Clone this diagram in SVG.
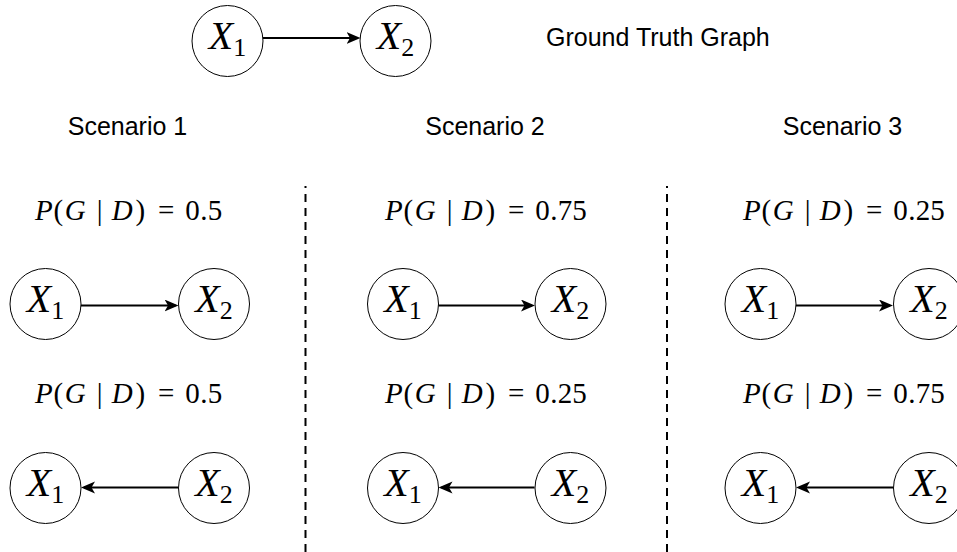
<svg xmlns="http://www.w3.org/2000/svg" width="957" height="552" viewBox="0 0 957 552">
<style>
.node{fill:#fff;stroke:#000;stroke-width:1}
.lbl{font-family:"Liberation Serif",serif;font-size:40px;fill:#000;text-anchor:middle}
.lbl .x{font-style:italic}
.lbl .s{font-size:26px}
.title{font-family:"Liberation Sans",Arial,sans-serif;font-size:25px;fill:#000}
.math{font-family:"Liberation Serif",serif;font-size:29px;fill:#000}
.math .i{font-style:italic}
.edge{stroke:#000;stroke-width:2;fill:none}
.div{stroke:#000;stroke-width:2;stroke-dasharray:8 6;fill:none}
</style>
<defs>
<marker id="arr" markerUnits="userSpaceOnUse" markerWidth="16" markerHeight="14" refX="11" refY="6" orient="auto">
<path d="M0,0 L14,6 L0,12 L3.5,6 Z" fill="#000"/>
</marker>
</defs>

<g id="titles">
<text class="title" x="546" y="46">Ground Truth Graph</text>
<text class="title" x="127.5" y="135" text-anchor="middle">Scenario 1</text>
<text class="title" x="485" y="135" text-anchor="middle">Scenario 2</text>
<text class="title" x="842.5" y="135" text-anchor="middle">Scenario 3</text>
</g>

<g id="dividers">
<path class="div" d="M305.5,552 V186"/>
<path class="div" d="M667,552 V186"/>
</g>

<g id="probabilities">
<g transform="translate(35,220)">
<text class="math"><tspan class="i" x="0">P</tspan><tspan x="18.6">(</tspan><tspan class="i" x="29.8">G</tspan><tspan x="61.7">|</tspan><tspan class="i" x="76.7">D</tspan><tspan x="100.5">)</tspan><tspan x="123.1">=</tspan><tspan x="150.3">0</tspan><tspan x="165.3">.</tspan><tspan x="172.8">5</tspan></text>
</g>
<g transform="translate(35,403)">
<text class="math"><tspan class="i" x="0">P</tspan><tspan x="18.6">(</tspan><tspan class="i" x="29.8">G</tspan><tspan x="61.7">|</tspan><tspan class="i" x="76.7">D</tspan><tspan x="100.5">)</tspan><tspan x="123.1">=</tspan><tspan x="150.3">0</tspan><tspan x="165.3">.</tspan><tspan x="172.8">5</tspan></text>
</g>
<g transform="translate(385,220)">
<text class="math"><tspan class="i" x="0">P</tspan><tspan x="18.6">(</tspan><tspan class="i" x="29.8">G</tspan><tspan x="61.7">|</tspan><tspan class="i" x="76.7">D</tspan><tspan x="100.5">)</tspan><tspan x="123.1">=</tspan><tspan x="150.3">0</tspan><tspan x="165.3">.</tspan><tspan x="172.8">7</tspan><tspan x="187.3">5</tspan></text>
</g>
<g transform="translate(385,403)">
<text class="math"><tspan class="i" x="0">P</tspan><tspan x="18.6">(</tspan><tspan class="i" x="29.8">G</tspan><tspan x="61.7">|</tspan><tspan class="i" x="76.7">D</tspan><tspan x="100.5">)</tspan><tspan x="123.1">=</tspan><tspan x="150.3">0</tspan><tspan x="165.3">.</tspan><tspan x="172.8">2</tspan><tspan x="187.3">5</tspan></text>
</g>
<g transform="translate(743,220)">
<text class="math"><tspan class="i" x="0">P</tspan><tspan x="18.6">(</tspan><tspan class="i" x="29.8">G</tspan><tspan x="61.7">|</tspan><tspan class="i" x="76.7">D</tspan><tspan x="100.5">)</tspan><tspan x="123.1">=</tspan><tspan x="150.3">0</tspan><tspan x="165.3">.</tspan><tspan x="172.8">2</tspan><tspan x="187.3">5</tspan></text>
</g>
<g transform="translate(743,403)">
<text class="math"><tspan class="i" x="0">P</tspan><tspan x="18.6">(</tspan><tspan class="i" x="29.8">G</tspan><tspan x="61.7">|</tspan><tspan class="i" x="76.7">D</tspan><tspan x="100.5">)</tspan><tspan x="123.1">=</tspan><tspan x="150.3">0</tspan><tspan x="165.3">.</tspan><tspan x="172.8">7</tspan><tspan x="187.3">5</tspan></text>
</g>
</g>

<g id="connectors">
<line class="edge" x1="263" y1="38" x2="357.5" y2="38" marker-end="url(#arr)"/>
<line class="edge" x1="81" y1="305.5" x2="175.5" y2="305.5" marker-end="url(#arr)"/>
<line class="edge" x1="178" y1="487.5" x2="84" y2="487.5" marker-end="url(#arr)"/>
<line class="edge" x1="438.5" y1="305.5" x2="532" y2="305.5" marker-end="url(#arr)"/>
<line class="edge" x1="534.5" y1="487.5" x2="441.5" y2="487.5" marker-end="url(#arr)"/>
<line class="edge" x1="796" y1="305.5" x2="890" y2="305.5" marker-end="url(#arr)"/>
<line class="edge" x1="893" y1="487.5" x2="799" y2="487.5" marker-end="url(#arr)"/>
</g>

<g id="gt-x1"><circle class="node" cx="227.5" cy="41" r="35.5"/><text class="lbl" x="227.5" y="49"><tspan class="x">X</tspan><tspan class="s" dy="7">1</tspan></text></g>
<g id="gt-x2"><circle class="node" cx="395.5" cy="41" r="35.5"/><text class="lbl" x="395.5" y="49"><tspan class="x">X</tspan><tspan class="s" dy="7">2</tspan></text></g>

<g id="s1-r1-x1"><circle class="node" cx="45.5" cy="304" r="35.5"/><text class="lbl" x="45.5" y="312"><tspan class="x">X</tspan><tspan class="s" dy="7">1</tspan></text></g>
<g id="s1-r1-x2"><circle class="node" cx="214" cy="304" r="35.5"/><text class="lbl" x="214" y="312"><tspan class="x">X</tspan><tspan class="s" dy="7">2</tspan></text></g>
<g id="s1-r2-x1"><circle class="node" cx="45.5" cy="488" r="35.5"/><text class="lbl" x="45.5" y="496"><tspan class="x">X</tspan><tspan class="s" dy="7">1</tspan></text></g>
<g id="s1-r2-x2"><circle class="node" cx="214" cy="488" r="35.5"/><text class="lbl" x="214" y="496"><tspan class="x">X</tspan><tspan class="s" dy="7">2</tspan></text></g>

<g id="s2-r1-x1"><circle class="node" cx="403" cy="304" r="35.5"/><text class="lbl" x="403" y="312"><tspan class="x">X</tspan><tspan class="s" dy="7">1</tspan></text></g>
<g id="s2-r1-x2"><circle class="node" cx="570.5" cy="304" r="35.5"/><text class="lbl" x="570.5" y="312"><tspan class="x">X</tspan><tspan class="s" dy="7">2</tspan></text></g>
<g id="s2-r2-x1"><circle class="node" cx="403" cy="488" r="35.5"/><text class="lbl" x="403" y="496"><tspan class="x">X</tspan><tspan class="s" dy="7">1</tspan></text></g>
<g id="s2-r2-x2"><circle class="node" cx="570.5" cy="488" r="35.5"/><text class="lbl" x="570.5" y="496"><tspan class="x">X</tspan><tspan class="s" dy="7">2</tspan></text></g>

<g id="s3-r1-x1"><circle class="node" cx="760.5" cy="304" r="35.5"/><text class="lbl" x="760.5" y="312"><tspan class="x">X</tspan><tspan class="s" dy="7">1</tspan></text></g>
<g id="s3-r1-x2"><circle class="node" cx="929" cy="304" r="35.5"/><text class="lbl" x="929" y="312"><tspan class="x">X</tspan><tspan class="s" dy="7">2</tspan></text></g>
<g id="s3-r2-x1"><circle class="node" cx="760.5" cy="488" r="35.5"/><text class="lbl" x="760.5" y="496"><tspan class="x">X</tspan><tspan class="s" dy="7">1</tspan></text></g>
<g id="s3-r2-x2"><circle class="node" cx="929" cy="488" r="35.5"/><text class="lbl" x="929" y="496"><tspan class="x">X</tspan><tspan class="s" dy="7">2</tspan></text></g>
</svg>
